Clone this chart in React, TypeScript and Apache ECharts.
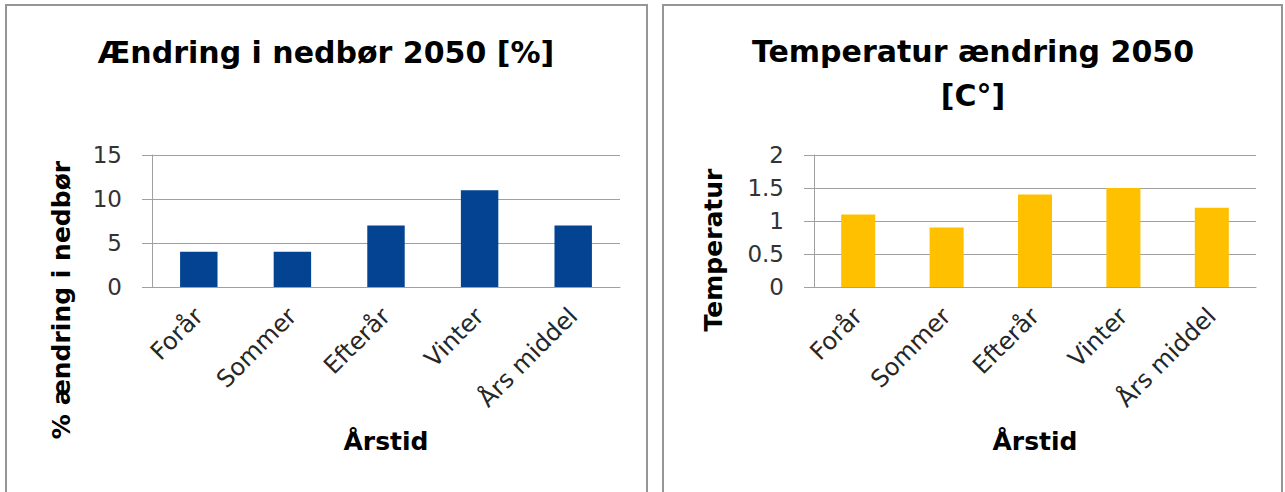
import React, { useEffect, useRef } from "react";
import * as echarts from "echarts";

const categories = ["Forår", "Sommer", "Efterår", "Vinter", "Års middel"];
const precipValues = [4, 4, 7, 11, 7];
const tempValues = [1.1, 0.9, 1.4, 1.5, 1.2];

const leftTitle = "Ændring i nedbør 2050 [%]";
const rightTitle = "Temperatur ændring 2050\n[C°]";
const leftYName = "% ændring i nedbør";
const rightYName = "Temperatur";
const xName = "Årstid";

const FONT = "'DejaVu Sans', sans-serif";
const GRID = "#a0a0a0";

export default function App() {
  const ref = useRef<HTMLDivElement>(null);

  useEffect(() => {
    if (!ref.current) return;
    const chart = echarts.init(ref.current, undefined, { renderer: "svg" });

    const xAxisCommon = (gridIndex: number) => ({
      type: "category" as const,
      gridIndex,
      data: categories,
      name: xName,
      nameLocation: "middle" as const,
      nameGap: 142,
      nameTextStyle: { fontFamily: FONT, fontSize: 25, fontWeight: "bold", color: "#000" },
      axisLine: { show: true, lineStyle: { color: GRID, width: 1 } },
      axisTick: { show: false },
      axisLabel: {
        rotate: 45,
        margin: 25,
        interval: 0,
        fontFamily: FONT,
        fontSize: 24,
        color: "#262626",
      },
    });

    const yAxisCommon = (gridIndex: number, max: number, interval: number) => ({
      type: "value" as const,
      gridIndex,
      min: 0,
      max,
      interval,
      axisLine: { show: true, lineStyle: { color: GRID, width: 1 } },
      axisTick: { show: true, length: 10, lineStyle: { color: GRID } },
      splitLine: { show: true, lineStyle: { color: GRID, width: 1 } },
      axisLabel: {
        margin: 30,
        fontFamily: FONT,
        fontSize: 23,
        color: "#333333",
      },
    });

    chart.setOption({
      animation: false,
      backgroundColor: "#ffffff",
      grid: [
        { left: 152, top: 155, width: 468, height: 132 },
        { left: 814, top: 155, width: 442, height: 132 },
      ],
      xAxis: [xAxisCommon(0), xAxisCommon(1)],
      yAxis: [yAxisCommon(0, 15, 5), yAxisCommon(1, 2, 0.5)],
      series: [
        {
          type: "bar",
          xAxisIndex: 0,
          yAxisIndex: 0,
          data: precipValues,
          barWidth: "40%",
          itemStyle: { color: "#034392" },
        },
        {
          type: "bar",
          xAxisIndex: 1,
          yAxisIndex: 1,
          data: tempValues,
          barWidth: "38.5%",
          itemStyle: { color: "#ffc000" },
        },
      ],
      graphic: [
        {
          type: "rect",
          shape: { x: 6, y: 5, width: 641, height: 520 },
          style: { fill: "none", stroke: "#969696", lineWidth: 2 },
          silent: true,
        },
        {
          type: "rect",
          shape: { x: 663, y: 5, width: 619, height: 520 },
          style: { fill: "none", stroke: "#969696", lineWidth: 2 },
          silent: true,
        },
        {
          type: "text",
          x: 326,
          y: 52,
          style: {
            text: leftTitle,
            fontFamily: FONT,
            fontSize: 30,
            fontWeight: "bold",
            fill: "#000",
            align: "center",
            verticalAlign: "middle",
          },
        },
        {
          type: "text",
          x: 973,
          y: 73,
          style: {
            text: rightTitle,
            fontFamily: FONT,
            fontSize: 30,
            fontWeight: "bold",
            fill: "#000",
            lineHeight: 44,
            align: "center",
            verticalAlign: "middle",
          },
        },
        {
          type: "text",
          x: 61,
          y: 300,
          rotation: Math.PI / 2,
          style: {
            text: leftYName,
            fontFamily: FONT,
            fontSize: 25,
            fontWeight: "bold",
            fill: "#000",
            align: "center",
            verticalAlign: "middle",
          },
        },
        {
          type: "text",
          x: 713,
          y: 250,
          rotation: Math.PI / 2,
          style: {
            text: rightYName,
            fontFamily: FONT,
            fontSize: 25,
            fontWeight: "bold",
            fill: "#000",
            align: "center",
            verticalAlign: "middle",
          },
        },
      ],
    });

    return () => chart.dispose();
  }, []);

  return (
    <div
      ref={ref}
      style={{ position: "fixed", left: 0, top: 0, width: 1285, height: 492, background: "#fff" }}
    />
  );
}
